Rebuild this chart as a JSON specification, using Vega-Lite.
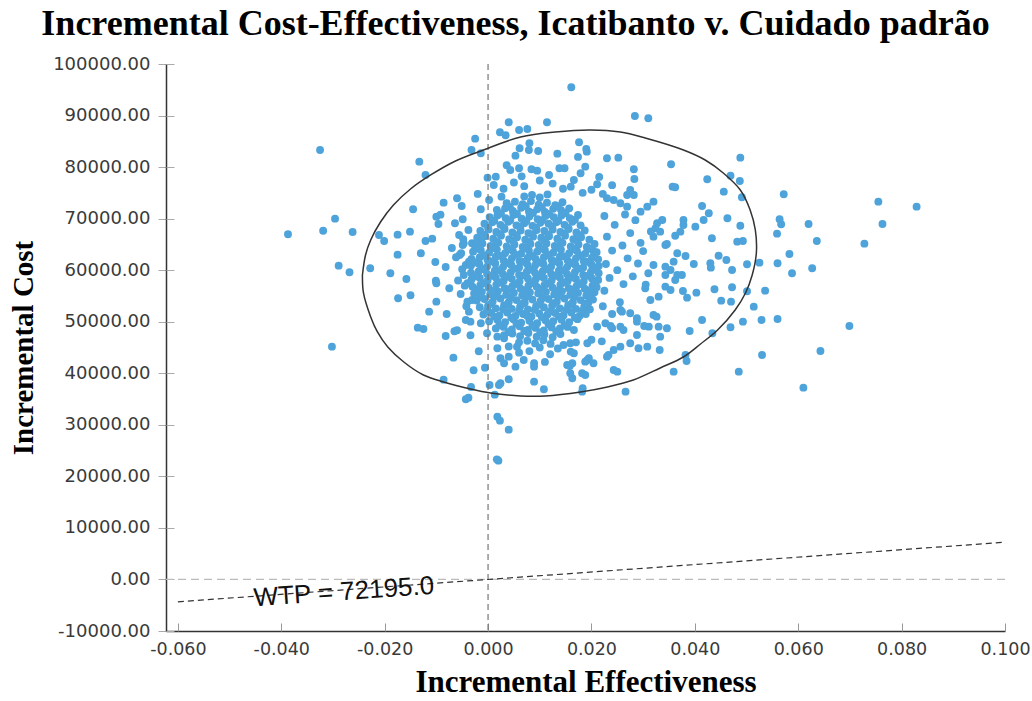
{
"$schema": "https://vega.github.io/schema/vega-lite/v6.json",
"width": 839, "height": 567,
"autosize": "none",
"padding": {"left": 166, "top": 64, "right": 27, "bottom": 70},
"background": "white",
"config": {"view": {"stroke": null}},
"title": {"text": "Incremental Cost-Effectiveness, Icatibanto v. Cuidado padrão", "font": "Liberation Serif", "fontWeight": "bold", "fontSize": 36, "color": "black", "anchor": "middle", "frame": "group", "dx": -70, "offset": 12},
"datasets": {
"pts": [
{"e":0.0161,"c":95480},{"e":0.0284,"c":89920},{"e":0.0310,"c":89470},{"e":0.0114,"c":88700},{"e":0.0040,"c":88700},{"e":0.0060,"c":87200},{"e":0.0076,"c":87400},{"e":0.0023,"c":86760},{"e":0.0034,"c":86170},{"e":-0.0025,"c":85520},{"e":-0.0032,"c":83320},{"e":-0.0014,"c":82680},{"e":-0.0325,"c":83320},{"e":-0.0133,"c":81050},{"e":-0.0121,"c":78470},{"e":0.0176,"c":84820},{"e":0.0190,"c":83520},{"e":0.0191,"c":82990},{"e":0.0080,"c":84620},{"e":0.0097,"c":83130},{"e":0.0061,"c":83650},{"e":0.0079,"c":83320},{"e":0.0134,"c":82610},{"e":0.0174,"c":81970},{"e":0.0053,"c":82220},{"e":0.0252,"c":81830},{"e":0.0354,"c":80550},{"e":0.0036,"c":80350},{"e":0.0148,"c":79770},{"e":0.0138,"c":79770},{"e":0.0188,"c":80080},{"e":0.0282,"c":79580},{"e":0.0283,"c":77700},{"e":0.0357,"c":76200},{"e":0.0362,"c":76090},{"e":0.0211,"c":76670},{"e":0.0118,"c":78470},{"e":0.0084,"c":79580},{"e":0.0095,"c":79310},{"e":0.0043,"c":79440},{"e":0.0060,"c":79770},{"e":0.0166,"c":77500},{"e":0.0179,"c":78800},{"e":-0.0001,"c":77950},{"e":0.0015,"c":78140},{"e":0.0011,"c":76530},{"e":0.0026,"c":74260},{"e":-0.0014,"c":71820},{"e":0.0002,"c":73620},
{"e":-0.0387,"c":66970},{"e":-0.0319,"c":67660},{"e":-0.0296,"c":69990},{"e":-0.0262,"c":67410},{"e":-0.0211,"c":66830},{"e":-0.0201,"c":65670},{"e":-0.0175,"c":66890},{"e":-0.0151,"c":67470},{"e":-0.0145,"c":71820},{"e":-0.0086,"c":73100},{"e":-0.0060,"c":73950},{"e":-0.0051,"c":72460},{"e":-0.0100,"c":70380},{"e":-0.0092,"c":70770},{"e":-0.0096,"c":68960},{"e":-0.0064,"c":69100},{"e":-0.0049,"c":69880},{"e":-0.0038,"c":67800},{"e":-0.0056,"c":66830},{"e":-0.0121,"c":65670},{"e":-0.0108,"c":66110},{"e":-0.0130,"c":63280},{"e":-0.0175,"c":63010},{"e":-0.0047,"c":65220},{"e":-0.0031,"c":65220},{"e":-0.0052,"c":63280},{"e":-0.0289,"c":60880},{"e":-0.0268,"c":59600},{"e":-0.0302,"c":45160},{"e":-0.0228,"c":60370},{"e":-0.0189,"c":59400},{"e":-0.0158,"c":58290},{"e":-0.0174,"c":54550},{"e":-0.0150,"c":55130},{"e":-0.0102,"c":61590},{"e":-0.0082,"c":60620},{"e":-0.0101,"c":57970},{"e":-0.0100,"c":57460},{"e":-0.0100,"c":53890},{"e":-0.0114,"c":51950},{"e":-0.0136,"c":48850},{"e":-0.0125,"c":48600},{"e":-0.0082,"c":47240},{"e":-0.0065,"c":48150},{"e":-0.0060,"c":48340},{"e":-0.0034,"c":47370},{"e":-0.0067,"c":43030},{"e":-0.0018,"c":44270},{"e":-0.0028,"c":40580},{"e":-0.0006,"c":41090},{"e":-0.0086,"c":38760},{"e":-0.0033,"c":37340},{"e":-0.0043,"c":34960},{"e":-0.0038,"c":35270},{"e":0.0003,"c":37730},{"e":0.0013,"c":35850},{"e":0.0018,"c":31580},{"e":0.0023,"c":30810},{"e":0.0040,"c":29060},{"e":0.0020,"c":23050},{"e":0.0017,"c":23300},
{"e":-0.0049,"c":64890},{"e":-0.0055,"c":62950},{"e":-0.0043,"c":61010},{"e":-0.0037,"c":61650},{"e":-0.0047,"c":59070},{"e":-0.0040,"c":57460},{"e":-0.0053,"c":55380},{"e":-0.0040,"c":53890},{"e":-0.0031,"c":54220},{"e":-0.0037,"c":51950},{"e":-0.0043,"c":50340},{"e":-0.0034,"c":50010},{"e":-0.0014,"c":49700},{"e":-0.0002,"c":47760},{"e":0.0018,"c":47100},{"e":0.0031,"c":46790},{"e":0.0018,"c":44850},{"e":0.0024,"c":42910},{"e":0.0040,"c":43220},{"e":0.0031,"c":41940},{"e":0.0053,"c":41280},{"e":0.0024,"c":38060},{"e":0.0040,"c":38840},{"e":0.0056,"c":45160},{"e":0.0021,"c":37730},{"e":0.0089,"c":38370},{"e":0.0108,"c":36900},{"e":0.0182,"c":36430},{"e":0.0183,"c":37090},{"e":0.0163,"c":39030},{"e":0.0159,"c":40000},{"e":0.0182,"c":40000},{"e":0.0188,"c":39670},{"e":0.0266,"c":36430},{"e":0.0243,"c":40640},{"e":0.0250,"c":40310},{"e":0.0359,"c":40310},{"e":0.0153,"c":41610},{"e":0.0163,"c":41940},{"e":0.0089,"c":41940},{"e":0.0089,"c":41280},{"e":0.0069,"c":42580},{"e":0.0192,"c":42580},{"e":0.0204,"c":41940},{"e":0.0230,"c":43220},{"e":0.0256,"c":45160},{"e":0.0275,"c":45820},{"e":0.0291,"c":44850},{"e":0.0308,"c":45160},{"e":0.0332,"c":44520},{"e":0.0288,"c":47430},{"e":0.0311,"c":49040},{"e":0.0330,"c":49040},{"e":0.0346,"c":48730},{"e":0.0333,"c":47100},{"e":0.0256,"c":52280},{"e":0.0275,"c":51640},{"e":0.0288,"c":50670},{"e":0.0320,"c":51310},{"e":0.0240,"c":48730},{"e":0.0256,"c":49040},{"e":0.0262,"c":48400},{"e":0.0314,"c":54220},{"e":0.0330,"c":54860},{"e":0.0343,"c":56800},{"e":0.0353,"c":56160},{"e":0.0362,"c":58100},{"e":0.0366,"c":59070},{"e":0.0343,"c":60680},{"e":0.0359,"c":61650},{"e":0.0366,"c":63280},{"e":0.0343,"c":64890},{"e":0.0320,"c":66500},{"e":0.0333,"c":67470},{"e":0.0327,"c":69100},{"e":0.0337,"c":69740},{"e":0.0320,"c":73290},{"e":0.0308,"c":72320},{"e":0.0295,"c":71350},{"e":0.0269,"c":74590},{"e":0.0282,"c":74590},{"e":0.0275,"c":75560},{"e":0.0230,"c":73950},{"e":0.0243,"c":73620},{"e":0.0256,"c":72980},{"e":0.0269,"c":72320},{"e":0.0230,"c":81710},
{"e":0.0488,"c":81830},{"e":0.0424,"c":77640},{"e":0.0469,"c":78340},{"e":0.0487,"c":77310},{"e":0.0456,"c":75230},{"e":0.0491,"c":74140},{"e":0.0572,"c":74730},{"e":0.0755,"c":73290},{"e":0.0829,"c":72320},{"e":0.0763,"c":68960},{"e":0.0414,"c":72460},{"e":0.0427,"c":71040},{"e":0.0417,"c":69740},{"e":0.0401,"c":68440},{"e":0.0463,"c":70070},{"e":0.0378,"c":69740},{"e":0.0378,"c":68770},{"e":0.0372,"c":67470},{"e":0.0362,"c":66690},{"e":0.0488,"c":68630},{"e":0.0564,"c":69880},{"e":0.0567,"c":68900},{"e":0.0620,"c":68960},{"e":0.0559,"c":67080},{"e":0.0636,"c":65670},{"e":0.0728,"c":65140},{"e":0.0433,"c":66190},{"e":0.0482,"c":65530},{"e":0.0493,"c":65670},{"e":0.0583,"c":63140},{"e":0.0588,"c":59400},{"e":0.0627,"c":60370},{"e":0.0525,"c":61460},{"e":0.0560,"c":61340},{"e":0.0501,"c":61150},{"e":0.0446,"c":62810},{"e":0.0461,"c":61980},{"e":0.0430,"c":61340},{"e":0.0431,"c":60490},{"e":0.0398,"c":61200},{"e":0.0382,"c":62760},{"e":0.0472,"c":60040},{"e":0.0536,"c":56030},{"e":0.0501,"c":55910},{"e":0.0472,"c":56680},{"e":0.0438,"c":56300},{"e":0.0403,"c":55640},{"e":0.0377,"c":55970},{"e":0.0385,"c":54670},{"e":0.0451,"c":54090},{"e":0.0470,"c":53890},{"e":0.0514,"c":52920},{"e":0.0414,"c":50340},{"e":0.0493,"c":50010},{"e":0.0529,"c":50340},{"e":0.0560,"c":50530},{"e":0.0469,"c":48930},{"e":0.0434,"c":47760},{"e":0.0390,"c":48210},{"e":0.0699,"c":49180},{"e":0.0643,"c":44330},{"e":0.0530,"c":43550},{"e":0.0382,"c":43550},{"e":0.0384,"c":42390},{"e":0.0485,"c":40310},{"e":0.0610,"c":37210},{"e":0.0324,"c":68130},{"e":0.0346,"c":65080},{"e":0.0320,"c":61010},{"e":0.0343,"c":59070},{"e":0.0375,"c":59070},{"e":0.0353,"c":60040},{"e":0.0304,"c":56490},{"e":0.0326,"c":50980},{"e":0.0302,"c":49180},
{"e":0.0233,"c":43550},{"e":0.0243,"c":44520},{"e":0.0195,"c":42910},{"e":0.0188,"c":42250},{"e":0.0158,"c":41420},{"e":0.0166,"c":43880},{"e":0.0146,"c":45490},{"e":0.0192,"c":45820},{"e":0.0159,"c":45820},{"e":0.0237,"c":49180},{"e":0.0211,"c":49040},{"e":0.0227,"c":49700},{"e":0.0259,"c":51950},{"e":0.0288,"c":50010},
{"e":0.0050,"c":77000},{"e":0.0070,"c":76300},{"e":0.0125,"c":76800},{"e":0.0145,"c":75800},{"e":0.0160,"c":76200},{"e":0.0200,"c":75600},{"e":0.0222,"c":74800},{"e":0.0183,"c":75000},{"e":0.0030,"c":75800},{"e":-0.0020,"c":74800},{"e":0.0100,"c":77400},{"e":0.0065,"c":78200},{"e":0.0240,"c":76500},{"e":0.0215,"c":78100},
{"e":0.0080,"c":44300},{"e":0.0100,"c":45000},{"e":0.0120,"c":43700},{"e":0.0135,"c":44800},{"e":0.0060,"c":44000},{"e":0.0170,"c":46000},{"e":0.0110,"c":42200},{"e":0.0040,"c":45200},{"e":0.0160,"c":44200},{"e":0.0200,"c":46500},{"e":0.0220,"c":46200},
{"e":0.0225,"c":56000},{"e":0.0235,"c":58500},{"e":0.0228,"c":61200},{"e":0.0240,"c":63800},{"e":0.0230,"c":66500},{"e":0.0245,"c":68800},{"e":0.0225,"c":70500},{"e":0.0250,"c":60000},{"e":0.0262,"c":57300},{"e":0.0260,"c":64800},{"e":0.0270,"c":62300},{"e":0.0255,"c":53800},{"e":0.0240,"c":51500},{"e":0.0275,"c":67200},{"e":0.0280,"c":58800},{"e":0.0290,"c":61300},{"e":0.0295,"c":65300},{"e":0.0285,"c":69700},{"e":0.0265,"c":70800},{"e":0.0300,"c":63700},{"e":0.0310,"c":59400},{"e":0.0305,"c":57200},{"e":0.0315,"c":67500},{"e":0.0222,"c":53000},
{"e":-0.0045,"c":57000},{"e":-0.0050,"c":60200},{"e":-0.0048,"c":66000},{"e":-0.0058,"c":58000},{"e":-0.0042,"c":53000},{"e":-0.0062,"c":62500},{"e":-0.0070,"c":64300},{"e":-0.0075,"c":56500},{"e":-0.0080,"c":51500},
{"e":0.0060,"c":46000},{"e":0.0076,"c":46300},{"e":0.0091,"c":45800},{"e":0.0107,"c":46400},{"e":0.0121,"c":45700},
{"e":0.0031,"c":47400},{"e":0.0047,"c":47700},{"e":0.0062,"c":47200},{"e":0.0078,"c":47800},{"e":0.0094,"c":47100},{"e":0.0109,"c":47500},{"e":0.0125,"c":47000},{"e":0.0140,"c":47600},
{"e":0.0015,"c":48700},{"e":0.0030,"c":49000},{"e":0.0046,"c":48500},{"e":0.0061,"c":49100},{"e":0.0077,"c":48400},{"e":0.0092,"c":48800},{"e":0.0108,"c":48300},{"e":0.0123,"c":48900},{"e":0.0139,"c":48700},{"e":0.0154,"c":49000},{"e":0.0166,"c":48400},
{"e":0.0002,"c":50100},{"e":0.0018,"c":50400},{"e":0.0033,"c":49900},{"e":0.0049,"c":50500},{"e":0.0064,"c":49800},{"e":0.0080,"c":50200},{"e":0.0095,"c":49700},{"e":0.0111,"c":50300},{"e":0.0126,"c":50100},{"e":0.0142,"c":50400},{"e":0.0157,"c":49900},{"e":0.0173,"c":50500},
{"e":-0.0009,"c":51400},{"e":0.0006,"c":51700},{"e":0.0022,"c":51200},{"e":0.0037,"c":51800},{"e":0.0053,"c":51100},{"e":0.0068,"c":51500},{"e":0.0084,"c":51000},{"e":0.0099,"c":51600},{"e":0.0115,"c":51400},{"e":0.0130,"c":51700},{"e":0.0146,"c":51200},{"e":0.0161,"c":51800},{"e":0.0177,"c":51100},{"e":0.0189,"c":51500},
{"e":-0.0016,"c":52800},{"e":0.0000,"c":53100},{"e":0.0015,"c":52600},{"e":0.0031,"c":53200},{"e":0.0046,"c":52500},{"e":0.0062,"c":52900},{"e":0.0077,"c":52400},{"e":0.0093,"c":53000},{"e":0.0108,"c":52800},{"e":0.0124,"c":53100},{"e":0.0139,"c":52600},{"e":0.0155,"c":53200},{"e":0.0170,"c":52500},{"e":0.0186,"c":52900},{"e":0.0197,"c":52400},
{"e":-0.0022,"c":54100},{"e":-0.0007,"c":54400},{"e":0.0009,"c":53900},{"e":0.0024,"c":54500},{"e":0.0040,"c":53800},{"e":0.0055,"c":54200},{"e":0.0071,"c":53700},{"e":0.0086,"c":54300},{"e":0.0102,"c":54100},{"e":0.0117,"c":54400},{"e":0.0133,"c":53900},{"e":0.0148,"c":54500},{"e":0.0164,"c":53800},{"e":0.0179,"c":54200},{"e":0.0194,"c":53700},{"e":0.0203,"c":54300},
{"e":-0.0027,"c":55500},{"e":-0.0012,"c":55800},{"e":0.0004,"c":55300},{"e":0.0019,"c":55900},{"e":0.0035,"c":55200},{"e":0.0050,"c":55600},{"e":0.0066,"c":55100},{"e":0.0081,"c":55700},{"e":0.0097,"c":55500},{"e":0.0112,"c":55800},{"e":0.0128,"c":55300},{"e":0.0143,"c":55900},{"e":0.0159,"c":55200},{"e":0.0174,"c":55600},{"e":0.0190,"c":55100},{"e":0.0206,"c":55700},
{"e":-0.0030,"c":56800},{"e":-0.0015,"c":57100},{"e":0.0001,"c":56600},{"e":0.0016,"c":57200},{"e":0.0032,"c":56500},{"e":0.0047,"c":56900},{"e":0.0063,"c":56400},{"e":0.0078,"c":57000},{"e":0.0094,"c":56800},{"e":0.0109,"c":57100},{"e":0.0125,"c":56600},{"e":0.0140,"c":57200},{"e":0.0156,"c":56500},{"e":0.0171,"c":56900},{"e":0.0187,"c":56400},{"e":0.0202,"c":57000},{"e":0.0210,"c":56700},
{"e":-0.0032,"c":58200},{"e":-0.0016,"c":58500},{"e":-0.0001,"c":58000},{"e":0.0015,"c":58600},{"e":0.0030,"c":57900},{"e":0.0046,"c":58300},{"e":0.0061,"c":57800},{"e":0.0077,"c":58400},{"e":0.0092,"c":58200},{"e":0.0108,"c":58500},{"e":0.0123,"c":58000},{"e":0.0139,"c":58600},{"e":0.0154,"c":57900},{"e":0.0170,"c":58300},{"e":0.0185,"c":57800},{"e":0.0201,"c":58400},{"e":0.0213,"c":58100},
{"e":-0.0033,"c":59500},{"e":-0.0018,"c":59800},{"e":-0.0002,"c":59300},{"e":0.0013,"c":59900},{"e":0.0029,"c":59200},{"e":0.0044,"c":59600},{"e":0.0060,"c":59100},{"e":0.0075,"c":59700},{"e":0.0091,"c":59500},{"e":0.0106,"c":59800},{"e":0.0122,"c":59300},{"e":0.0137,"c":59900},{"e":0.0153,"c":59200},{"e":0.0168,"c":59600},{"e":0.0184,"c":59100},{"e":0.0199,"c":59700},{"e":0.0214,"c":59400},
{"e":-0.0033,"c":60900},{"e":-0.0017,"c":61200},{"e":-0.0002,"c":60700},{"e":0.0014,"c":61300},{"e":0.0029,"c":60600},{"e":0.0045,"c":61000},{"e":0.0060,"c":60500},{"e":0.0076,"c":61100},{"e":0.0091,"c":60900},{"e":0.0107,"c":61200},{"e":0.0122,"c":60700},{"e":0.0138,"c":61300},{"e":0.0153,"c":60600},{"e":0.0169,"c":61000},{"e":0.0184,"c":60500},{"e":0.0200,"c":61100},{"e":0.0214,"c":60800},
{"e":-0.0032,"c":62200},{"e":-0.0016,"c":62500},{"e":-0.0001,"c":62000},{"e":0.0015,"c":62600},{"e":0.0030,"c":61900},{"e":0.0046,"c":62300},{"e":0.0061,"c":61800},{"e":0.0077,"c":62400},{"e":0.0092,"c":62200},{"e":0.0108,"c":62500},{"e":0.0123,"c":62000},{"e":0.0139,"c":62600},{"e":0.0154,"c":61900},{"e":0.0170,"c":62300},{"e":0.0185,"c":61800},{"e":0.0201,"c":62400},{"e":0.0213,"c":62100},
{"e":-0.0029,"c":63600},{"e":-0.0014,"c":63900},{"e":0.0002,"c":63400},{"e":0.0017,"c":64000},{"e":0.0033,"c":63300},{"e":0.0048,"c":63700},{"e":0.0064,"c":63200},{"e":0.0079,"c":63800},{"e":0.0095,"c":63600},{"e":0.0110,"c":63900},{"e":0.0126,"c":63400},{"e":0.0141,"c":64000},{"e":0.0157,"c":63300},{"e":0.0172,"c":63700},{"e":0.0188,"c":63200},{"e":0.0203,"c":63800},{"e":0.0210,"c":63500},
{"e":-0.0026,"c":64900},{"e":-0.0011,"c":65200},{"e":0.0005,"c":64700},{"e":0.0020,"c":65300},{"e":0.0036,"c":64600},{"e":0.0051,"c":65000},{"e":0.0067,"c":64500},{"e":0.0082,"c":65100},{"e":0.0098,"c":64900},{"e":0.0113,"c":65200},{"e":0.0129,"c":64700},{"e":0.0144,"c":65300},{"e":0.0160,"c":64600},{"e":0.0175,"c":65000},{"e":0.0191,"c":64500},{"e":0.0206,"c":65100},
{"e":-0.0021,"c":66300},{"e":-0.0006,"c":66600},{"e":0.0010,"c":66100},{"e":0.0025,"c":66700},{"e":0.0041,"c":66000},{"e":0.0056,"c":66400},{"e":0.0072,"c":65900},{"e":0.0087,"c":66500},{"e":0.0103,"c":66300},{"e":0.0118,"c":66600},{"e":0.0134,"c":66100},{"e":0.0149,"c":66700},{"e":0.0165,"c":66000},{"e":0.0180,"c":66400},{"e":0.0196,"c":65900},
{"e":-0.0015,"c":67600},{"e":0.0001,"c":67900},{"e":0.0016,"c":67400},{"e":0.0032,"c":68000},{"e":0.0047,"c":67300},{"e":0.0063,"c":67700},{"e":0.0078,"c":67200},{"e":0.0094,"c":67800},{"e":0.0109,"c":67600},{"e":0.0125,"c":67900},{"e":0.0140,"c":67400},{"e":0.0156,"c":68000},{"e":0.0171,"c":67300},{"e":0.0187,"c":67700},
{"e":-0.0007,"c":69000},{"e":0.0008,"c":69300},{"e":0.0024,"c":68800},{"e":0.0039,"c":69400},{"e":0.0055,"c":68700},{"e":0.0070,"c":69100},{"e":0.0086,"c":68600},{"e":0.0101,"c":69200},{"e":0.0117,"c":69000},{"e":0.0132,"c":69300},{"e":0.0148,"c":68800},{"e":0.0163,"c":69400},{"e":0.0179,"c":68700},
{"e":0.0003,"c":70300},{"e":0.0018,"c":70600},{"e":0.0034,"c":70100},{"e":0.0049,"c":70700},{"e":0.0065,"c":70000},{"e":0.0080,"c":70400},{"e":0.0096,"c":69900},{"e":0.0111,"c":70500},{"e":0.0127,"c":70300},{"e":0.0142,"c":70600},{"e":0.0158,"c":70100},{"e":0.0174,"c":70700},
{"e":0.0017,"c":71700},{"e":0.0033,"c":72000},{"e":0.0048,"c":71500},{"e":0.0064,"c":72100},{"e":0.0079,"c":71400},{"e":0.0095,"c":71800},{"e":0.0110,"c":71300},{"e":0.0126,"c":71900},{"e":0.0141,"c":71700},{"e":0.0157,"c":72000},
{"e":0.0036,"c":73000},{"e":0.0052,"c":73300},{"e":0.0067,"c":72800},{"e":0.0083,"c":73400},{"e":0.0098,"c":72700},{"e":0.0114,"c":73100},{"e":0.0130,"c":72600},{"e":0.0144,"c":73200},
{"e":0.0070,"c":74300},{"e":0.0085,"c":74600},{"e":0.0100,"c":74100},{"e":0.0115,"c":74700},
{"e":0.0040,"c":48000},{"e":0.0070,"c":48200},{"e":0.0101,"c":47900},{"e":0.0132,"c":48100},
{"e":0.0022,"c":49400},{"e":0.0055,"c":49600},{"e":0.0086,"c":49300},{"e":0.0117,"c":49500},{"e":0.0148,"c":49300},
{"e":0.0013,"c":51000},{"e":0.0045,"c":50800},{"e":0.0076,"c":51100},{"e":0.0104,"c":50900},{"e":0.0137,"c":51000},{"e":0.0168,"c":50800},
{"e":-0.0002,"c":52200},{"e":0.0029,"c":52400},{"e":0.0060,"c":52100},{"e":0.0090,"c":52300},{"e":0.0120,"c":52000},{"e":0.0151,"c":52300},{"e":0.0182,"c":52100},
{"e":0.0006,"c":53500},{"e":0.0038,"c":53300},{"e":0.0068,"c":53600},{"e":0.0099,"c":53400},{"e":0.0128,"c":53600},{"e":0.0160,"c":53300},{"e":0.0188,"c":53500},
{"e":-0.0015,"c":54800},{"e":0.0015,"c":55000},{"e":0.0044,"c":54700},{"e":0.0075,"c":54900},{"e":0.0106,"c":54700},{"e":0.0137,"c":55000},{"e":0.0167,"c":54800},{"e":0.0197,"c":54900},
{"e":-0.0020,"c":56200},{"e":0.0010,"c":56000},{"e":0.0041,"c":56300},{"e":0.0072,"c":56100},{"e":0.0103,"c":56300},{"e":0.0133,"c":56000},{"e":0.0164,"c":56200},{"e":0.0195,"c":56000},
{"e":-0.0008,"c":57500},{"e":0.0023,"c":57600},{"e":0.0054,"c":57300},{"e":0.0085,"c":57500},{"e":0.0116,"c":57400},{"e":0.0147,"c":57600},{"e":0.0178,"c":57300},{"e":0.0207,"c":57500},
{"e":-0.0024,"c":58800},{"e":0.0007,"c":58900},{"e":0.0038,"c":58700},{"e":0.0069,"c":59000},{"e":0.0100,"c":58800},{"e":0.0131,"c":58900},{"e":0.0162,"c":58600},{"e":0.0192,"c":58900},
{"e":-0.0010,"c":60200},{"e":0.0021,"c":60000},{"e":0.0052,"c":60300},{"e":0.0083,"c":60100},{"e":0.0114,"c":60200},{"e":0.0145,"c":60000},{"e":0.0176,"c":60300},{"e":0.0206,"c":60100},
{"e":-0.0025,"c":61500},{"e":0.0006,"c":61700},{"e":0.0037,"c":61400},{"e":0.0068,"c":61600},{"e":0.0099,"c":61500},{"e":0.0130,"c":61700},{"e":0.0161,"c":61400},{"e":0.0192,"c":61600},
{"e":-0.0009,"c":62900},{"e":0.0022,"c":62800},{"e":0.0053,"c":63000},{"e":0.0084,"c":62800},{"e":0.0115,"c":63000},{"e":0.0146,"c":62700},{"e":0.0177,"c":62900},{"e":0.0205,"c":62800},
{"e":-0.0020,"c":64200},{"e":0.0010,"c":64300},{"e":0.0041,"c":64100},{"e":0.0072,"c":64300},{"e":0.0103,"c":64200},{"e":0.0134,"c":64400},{"e":0.0165,"c":64100},{"e":0.0196,"c":64200},
{"e":-0.0014,"c":65600},{"e":0.0017,"c":65500},{"e":0.0048,"c":65700},{"e":0.0079,"c":65500},{"e":0.0110,"c":65700},{"e":0.0141,"c":65500},{"e":0.0172,"c":65700},
{"e":-0.0008,"c":66900},{"e":0.0024,"c":67000},{"e":0.0055,"c":66800},{"e":0.0086,"c":67000},{"e":0.0117,"c":66900},{"e":0.0148,"c":67100},{"e":0.0178,"c":66800},
{"e":0.0000,"c":68300},{"e":0.0031,"c":68200},{"e":0.0062,"c":68400},{"e":0.0093,"c":68200},{"e":0.0124,"c":68400},{"e":0.0155,"c":68200},
{"e":0.0012,"c":69600},{"e":0.0043,"c":69700},{"e":0.0074,"c":69500},{"e":0.0105,"c":69700},{"e":0.0136,"c":69600},{"e":0.0168,"c":69800},
{"e":0.0025,"c":71000},{"e":0.0056,"c":70900},{"e":0.0087,"c":71100},{"e":0.0118,"c":70900},{"e":0.0150,"c":71100},
{"e":0.0042,"c":72300},{"e":0.0073,"c":72400},{"e":0.0104,"c":72200},{"e":0.0135,"c":72400}
],
"ell": [
{"i":0,"e":-0.0243,"c":59070},{"i":1,"e":-0.0237,"c":62950},{"i":2,"e":-0.0227,"c":65860},{"i":3,"e":-0.0208,"c":69350},{"i":4,"e":-0.0183,"c":72650},{"i":5,"e":-0.0150,"c":75750},{"i":6,"e":-0.0111,"c":78470},{"i":7,"e":-0.0063,"c":81190},{"i":8,"e":-0.0009,"c":83320},{"i":9,"e":0.0063,"c":85840},{"i":10,"e":0.0130,"c":86810},{"i":11,"e":0.0198,"c":87200},{"i":12,"e":0.0256,"c":86810},{"i":13,"e":0.0304,"c":85650},{"i":14,"e":0.0378,"c":83320},{"i":15,"e":0.0420,"c":81380},{"i":16,"e":0.0455,"c":78860},{"i":17,"e":0.0488,"c":75560},{"i":18,"e":0.0507,"c":71680},{"i":19,"e":0.0517,"c":67800},{"i":20,"e":0.0519,"c":63340},{"i":21,"e":0.0511,"c":59070},{"i":22,"e":0.0498,"c":55580},{"i":23,"e":0.0478,"c":52280},{"i":24,"e":0.0444,"c":48400},{"i":25,"e":0.0411,"c":45680},{"i":26,"e":0.0378,"c":43160},{"i":27,"e":0.0333,"c":41030},{"i":28,"e":0.0281,"c":38700},{"i":29,"e":0.0231,"c":37340},{"i":30,"e":0.0179,"c":36370},{"i":31,"e":0.0111,"c":35600},{"i":32,"e":0.0063,"c":35600},{"i":33,"e":0.0005,"c":36180},{"i":34,"e":-0.0034,"c":36950},{"i":35,"e":-0.0086,"c":38310},{"i":36,"e":-0.0125,"c":39670},{"i":37,"e":-0.0163,"c":42190},{"i":38,"e":-0.0194,"c":45100},{"i":39,"e":-0.0214,"c":48010},{"i":40,"e":-0.0227,"c":50920},{"i":41,"e":-0.0241,"c":55580},{"i":42,"e":-0.0243,"c":59070}
],
"wtp": [{"e":-0.06,"c":-4332},{"e":0.1,"c":7220}],
"ref": [{"e":0,"c":0}],
"lbl": [{"e":-0.0279,"c":-2430,"t":"WTP = 72195.0"}]
},
"layer": [
{
"data": {"name": "pts"},
"mark": {"type": "circle", "size": 62, "color": "#4da3da", "opacity": 1},
"encoding": {
"x": {"field": "e", "type": "quantitative", "scale": {"domain": [-0.0623, 0.1], "nice": false, "zero": false},
"axis": {"orient": "bottom", "values": [-0.06, -0.04, -0.02, 0, 0.02, 0.04, 0.06, 0.08, 0.1], "format": ".3f", "labelExpr": "replace(datum.label, '−', '-')", "title": "Incremental Effectiveness", "titleFont": "Liberation Serif", "titleFontWeight": "bold", "titleFontSize": 31, "titleColor": "black", "titlePadding": 10, "labelFont": "DejaVu Sans", "labelFontSize": 17.5, "labelColor": "#3a3a3a", "labelPadding": 9, "tickSize": 0, "ticks": false, "grid": false, "domainColor": "#333", "domainWidth": 1.5, "labelFlush": false, "labelOverlap": false}},
"y": {"field": "c", "type": "quantitative", "scale": {"domain": [-10000, 100000], "nice": false, "zero": false},
"axis": {"orient": "left", "values": [-10000, 0, 10000, 20000, 30000, 40000, 50000, 60000, 70000, 80000, 90000, 100000], "format": ".2f", "labelExpr": "replace(datum.label, '−', '-')", "title": "Incremental Cost", "titleFont": "Liberation Serif", "titleFontWeight": "bold", "titleFontSize": 29, "titleColor": "black", "titlePadding": 14, "labelFont": "DejaVu Sans", "labelFontSize": 18, "labelColor": "#3a3a3a", "labelPadding": 8, "tickSize": 8, "tickColor": "#aaa", "grid": false, "domainColor": "#333", "domainWidth": 1.5, "labelFlush": false, "labelOverlap": false}}
}
},
{
"data": {"name": "ref"},
"mark": {"type": "rule", "color": "#777", "strokeDash": [6, 4], "strokeWidth": 1.2},
"encoding": {"x": {"field": "e", "type": "quantitative", "axis": null}}
},
{
"data": {"name": "ref"},
"mark": {"type": "rule", "color": "#bbb", "strokeDash": [8, 5], "strokeWidth": 1.2},
"encoding": {"y": {"field": "c", "type": "quantitative", "axis": null}}
},
{
"data": {"name": "ell"},
"mark": {"type": "line", "color": "#333", "strokeWidth": 1.5, "interpolate": "catmull-rom"},
"encoding": {
"x": {"field": "e", "type": "quantitative", "axis": {"orient": "bottom", "offset": -8, "values": [-0.06, -0.04, -0.02, 0, 0.02, 0.04, 0.06, 0.08, 0.1], "labels": false, "domain": false, "grid": false, "title": null, "tickSize": 8, "tickColor": "#999"}},
"y": {"field": "c", "type": "quantitative", "axis": {"orient": "left", "offset": -8, "values": [-10000, 0, 10000, 20000, 30000, 40000, 50000, 60000, 70000, 80000, 90000, 100000], "labels": false, "domain": false, "grid": false, "title": null, "tickSize": 8, "tickColor": "#aaa"}},
"order": {"field": "i", "type": "quantitative"}
}
},
{
"data": {"name": "wtp"},
"mark": {"type": "line", "color": "#333", "strokeWidth": 1.2, "strokeDash": [6, 4]},
"encoding": {"x": {"field": "e", "type": "quantitative", "axis": null}, "y": {"field": "c", "type": "quantitative", "axis": null}}
},
{
"data": {"name": "lbl"},
"mark": {"type": "text", "font": "Liberation Sans", "fontSize": 26, "color": "#111", "angle": 356, "align": "center", "baseline": "middle"},
"encoding": {"x": {"field": "e", "type": "quantitative", "axis": null}, "y": {"field": "c", "type": "quantitative", "axis": null}, "text": {"field": "t"}}
}
],
"resolve": {"axis": {"x": "independent", "y": "independent"}}
}
